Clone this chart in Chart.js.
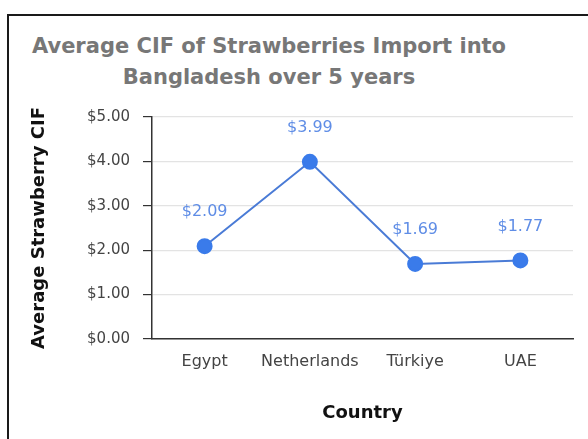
<!DOCTYPE html>
<html>
<head>
<meta charset="utf-8">
<script src="https://cdn.jsdelivr.net/npm/chart.js@4/dist/chart.umd.min.js"></script>
<style>
  html, body { margin: 0; padding: 0; background: #fff; }
  #wrap { position: relative; width: 588px; height: 439px; overflow: hidden; }
  #frame { position: absolute; left: 7px; top: 14px; width: 700px; height: 600px;
           border: 2px solid #1a1a1a; box-sizing: border-box; }
  #title { position: absolute; left: 19px; width: 500px; top: 31px; text-align: center;
           font-family: "DejaVu Sans", sans-serif; font-weight: bold;
           font-size: 21px; line-height: 31px; color: #777; }
  #c { position: absolute; left: 0; top: 0; }
</style>
</head>
<body>
<div id="wrap">
  <div id="frame"></div>
  <div id="title">Average CIF of Strawberries Import into<br>Bangladesh over 5 years</div>
  <canvas id="c" width="588" height="439"></canvas>
</div>
<script>
// Average CIF per country (USD)
const countries = ['Egypt', 'Netherlands', 'Türkiye', 'UAE'];
const avgCif = [2.09, 3.99, 1.69, 1.77];
const yTicks = [0, 1, 2, 3, 4, 5];

const FONT = '"DejaVu Sans", sans-serif';
const money = v => '$' + Number(v).toFixed(2);

// Draws the value above each point
const valueLabels = {
  id: 'valueLabels',
  afterDatasetsDraw(chart) {
    const ctx = chart.ctx;
    const meta = chart.getDatasetMeta(0);
    ctx.save();
    ctx.font = '16px ' + FONT;
    ctx.fillStyle = '#5f8de6';
    ctx.textAlign = 'center';
    ctx.textBaseline = 'middle';
    meta.data.forEach((pt, i) => {
      ctx.fillText(money(avgCif[i]), pt.x, pt.y - 34);
    });
    ctx.restore();
  }
};

new Chart(document.getElementById('c'), {
  type: 'line',
  data: {
    labels: countries,
    datasets: [{
      data: avgCif,
      borderColor: '#4a7bd6',
      borderWidth: 2,
      backgroundColor: '#3a7bea',
      pointBackgroundColor: '#3a7bea',
      pointBorderColor: '#3a7bea',
      pointRadius: 7,
      tension: 0
    }]
  },
  options: {
    responsive: false,
    animation: false,
    devicePixelRatio: 1,
    layout: { padding: { left: 0, right: 15, top: 117, bottom: 0 } },
    plugins: { legend: { display: false }, title: { display: false }, tooltip: { enabled: false } },
    scales: {
      x: {
        offset: true,
        grid: { display: false, drawTicks: false },
        border: { display: true, color: '#333', width: 1.5 },
        ticks: { color: '#444', padding: 13, font: { size: 16, family: FONT } },
        title: { display: true, text: 'Country', color: '#111',
                 font: { size: 18, weight: 'bold', family: FONT },
                 padding: { top: 4, bottom: 15 } },
        afterFit(s) { s.height = 100; }
      },
      y: {
        min: 0, max: 5,
        afterBuildTicks(s) { s.ticks = yTicks.map(v => ({ value: v })); },
        grid: { color: '#e3e3e3', tickColor: '#333', tickLength: 9, lineWidth: 1.2 },
        border: { display: true, color: '#333', width: 1.5 },
        ticks: { color: '#444', padding: 13, callback: v => money(v),
                 font: { size: 15, family: FONT } },
        title: { display: true, text: 'Average Strawberry CIF', color: '#111',
                 font: { size: 18, weight: 'bold', family: FONT },
                 padding: { top: 29, bottom: 0 } },
        afterFit(s) { s.width = 152; }
      }
    }
  },
  plugins: [valueLabels]
});
</script>
</body>
</html>
